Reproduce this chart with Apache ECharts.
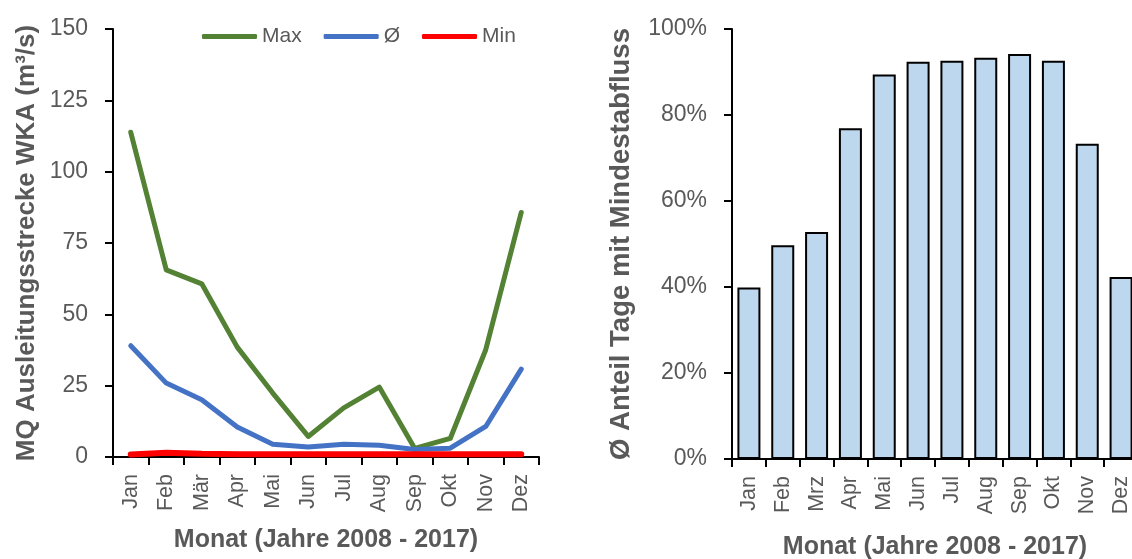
<!DOCTYPE html>
<html>
<head>
<meta charset="utf-8">
<script src="https://cdn.jsdelivr.net/npm/echarts@6/dist/echarts.min.js"></script>
<style>
  html, body { margin: 0; padding: 0; background: #ffffff; }
  #chart { width: 1132px; height: 559px; }
</style>
</head>
<body>
<div id="chart"></div>
<script>
// ---- Data ----
const monthsLeft = ['Jan', 'Feb', 'Mär', 'Apr', 'Mai', 'Jun', 'Jul', 'Aug', 'Sep', 'Okt', 'Nov', 'Dez'];
const monthsRight = ['Jan', 'Feb', 'Mrz', 'Apr', 'Mai', 'Jun', 'Jul', 'Aug', 'Sep', 'Okt', 'Nov', 'Dez'];
const maxQ = [113.8, 65.6, 60.7, 38.5, 22.4, 7.2, 17.2, 24.5, 3.0, 6.5, 37.6, 85.7];
const avgQ = [39.0, 25.9, 20.1, 10.5, 4.5, 3.5, 4.5, 4.1, 2.6, 3.1, 10.7, 30.8];
const minQ = [0.9, 1.5, 1.1, 1.0, 1.0, 1.0, 1.0, 1.0, 1.0, 1.0, 1.0, 1.0];
const shareDays = [39.9, 49.7, 52.8, 76.9, 89.4, 92.4, 92.6, 93.3, 94.2, 92.6, 73.3, 42.3];
const seriesNames = ['Max', 'Ø', 'Min'];
const leftTitle = 'MQ Ausleitungsstrecke WKA (m³/s)';
const rightTitle = 'Ø Anteil Tage mit Mindestabfluss';
const xTitle = 'Monat (Jahre 2008 - 2017)';

// ---- Styles ----
const FONT = 'Liberation Sans';
const GRAY = '#595959';
const axisLineStyle = { color: '#000000', width: 2 };

const chart = echarts.init(document.getElementById('chart'), null, { renderer: 'canvas' });

function xAxisCfg(gridIndex, cats, nameGap) {
  return {
    type: 'category',
    gridIndex: gridIndex,
    data: cats,
    boundaryGap: true,
    name: xTitle,
    nameLocation: 'middle',
    nameGap: nameGap,
    nameTextStyle: { fontFamily: FONT, fontSize: 25, fontWeight: 'bold', color: GRAY },
    axisLine: { show: true, lineStyle: axisLineStyle },
    axisTick: { show: true, alignWithLabel: false, length: 8, lineStyle: axisLineStyle },
    axisLabel: { rotate: 90, margin: 17, fontFamily: FONT, fontSize: 21.5, color: GRAY, interval: 0 },
    splitLine: { show: false }
  };
}

const option = {
  backgroundColor: '#ffffff',
  animation: false,
  textStyle: { fontFamily: FONT },
  grid: [
    { left: 113, top: 29, width: 426, height: 428, containLabel: false, outerBoundsMode: 'none' },
    { left: 732, top: 29, width: 406, height: 430, containLabel: false, outerBoundsMode: 'none' }
  ],
  legend: {
    data: seriesNames,
    left: 197,
    top: 21,
    icon: 'roundRect',
    itemWidth: 55,
    itemHeight: 5,
    itemGap: 22,
    textStyle: { fontFamily: FONT, fontSize: 21, color: GRAY }
  },
  xAxis: [
    xAxisCfg(0, monthsLeft, 71),
    xAxisCfg(1, monthsRight, 76)
  ],
  yAxis: [
    {
      type: 'value',
      gridIndex: 0,
      min: 0, max: 150, interval: 25,
      name: leftTitle,
      nameLocation: 'middle',
      nameGap: 73,
      nameTextStyle: { fontFamily: FONT, fontSize: 26, fontWeight: 'bold', color: GRAY },
      axisLine: { show: true, lineStyle: axisLineStyle },
      axisTick: { show: true, length: 8, lineStyle: axisLineStyle },
      axisLabel: { margin: 25, fontFamily: FONT, fontSize: 23, color: GRAY },
      splitLine: { show: false }
    },
    {
      type: 'value',
      gridIndex: 1,
      min: 0, max: 100, interval: 20,
      name: rightTitle,
      nameLocation: 'middle',
      nameGap: 97,
      nameTextStyle: { fontFamily: FONT, fontSize: 27.5, fontWeight: 'bold', color: GRAY },
      axisLine: { show: true, lineStyle: axisLineStyle },
      axisTick: { show: true, length: 8, lineStyle: axisLineStyle },
      axisLabel: { margin: 25, fontFamily: FONT, fontSize: 23, color: GRAY, formatter: '{value}%' },
      splitLine: { show: false }
    }
  ],
  series: [
    {
      name: seriesNames[0], type: 'line', xAxisIndex: 0, yAxisIndex: 0, data: maxQ,
      symbol: 'none', smooth: false,
      lineStyle: { color: '#548235', width: 5, cap: 'round', join: 'round' },
      itemStyle: { color: '#548235' }
    },
    {
      name: seriesNames[1], type: 'line', xAxisIndex: 0, yAxisIndex: 0, data: avgQ,
      symbol: 'none', smooth: false,
      lineStyle: { color: '#4472C4', width: 5, cap: 'round', join: 'round' },
      itemStyle: { color: '#4472C4' }
    },
    {
      name: seriesNames[2], type: 'line', xAxisIndex: 0, yAxisIndex: 0, data: minQ,
      symbol: 'none', smooth: false,
      lineStyle: { color: '#FF0000', width: 6, cap: 'round', join: 'round' },
      itemStyle: { color: '#FF0000' }
    },
    {
      name: 'Anteil', type: 'bar', xAxisIndex: 1, yAxisIndex: 1, data: shareDays,
      barWidth: 23,
      itemStyle: { color: '#BDD7EE', borderColor: '#000000', borderWidth: 2 }
    }
  ]
};

chart.setOption(option);
</script>
</body>
</html>
